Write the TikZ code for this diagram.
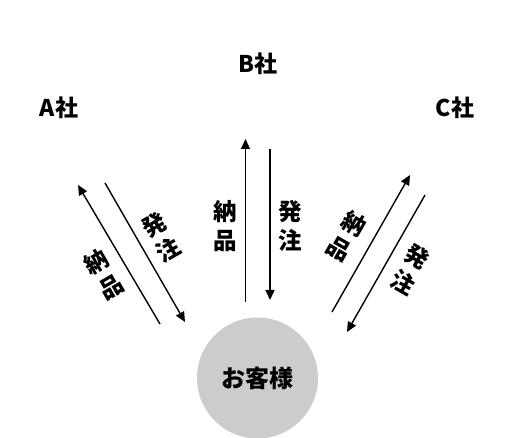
\documentclass[tikz,border=0pt]{standalone}
\usepackage{fontspec}
\setmainfont{Noto Sans CJK JP}
\usetikzlibrary{arrows.meta}
\begin{document}
\begin{tikzpicture}[x=1pt,y=-1pt,
  flow/.style={line width=1.4pt,-{Triangle[length=10pt,width=9pt]}},
  co/.style={font=\fontsize{23}{27}\selectfont\bfseries},
  lab/.style={font=\fontsize{23.5}{29}\selectfont\bfseries,align=center,inner sep=0pt},
  cust/.style={circle,fill=black!20,minimum size=121pt,inner sep=0pt,font=\fontsize{24}{28}\selectfont\bfseries}]
\useasboundingbox (0,0) rectangle (514,438);
% company labels
\node[co] (A) at (59,108) {A社};
\node[co] (B) at (258,64) {B社};
\node[co] (C) at (455,108) {C社};
% customer
\node[cust] (K) at (257.5,378) {お客様};
% left arrows
\coordinate (la1) at (160,324); \coordinate (la2) at (78,185);
\coordinate (lb1) at (105,183); \coordinate (lb2) at (185,322);
\draw[flow] (la1) -- (la2);
\draw[flow] (lb1) -- (lb2);
\node[lab,rotate=30] (lN) at (103.5,274.5) {納\\品};
\node[lab,rotate=30] (lH) at (161,237.5) {発\\注};
% center arrows
\coordinate (ca1) at (245.5,302); \coordinate (ca2) at (245.5,139);
\coordinate (cb1) at (270,149); \coordinate (cb2) at (270,300);
\draw[flow] (ca1) -- (ca2);
\draw[flow] (cb1) -- (cb2);
\node[lab] (cN) at (225,226) {納\\品};
\node[lab] (cH) at (290,226) {発\\注};
% right arrows
\coordinate (ra1) at (332,312); \coordinate (ra2) at (410,175);
\coordinate (rb1) at (425,195); \coordinate (rb2) at (347,332);
\draw[flow] (ra1) -- (ra2);
\draw[flow] (rb1) -- (rb2);
\node[lab,rotate=-30] (rN) at (346.5,236.5) {納\\品};
\node[lab,rotate=-30] (rH) at (410,269.5) {発\\注};
\end{tikzpicture}
\end{document}
